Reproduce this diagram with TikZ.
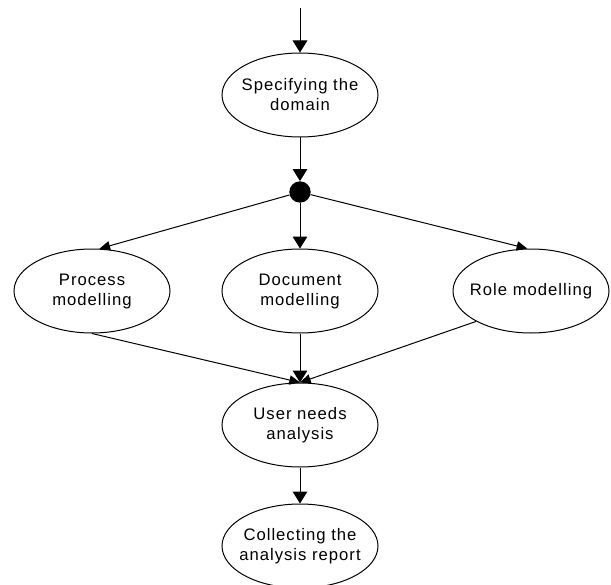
\documentclass[tikz,border=0pt]{standalone}
\usepackage{fontspec}
\setmainfont{Liberation Sans}
\usetikzlibrary{shapes.geometric,arrows.meta}

\begin{document}
\begin{tikzpicture}[x=0.75pt,y=-0.75pt]
\tikzstyle{every node}+=[inner sep=0pt]
\tikzstyle{task}=[draw=black, line width=0.75pt, ellipse, inner xsep=-20pt, inner ysep=-10pt, minimum width=117pt, minimum height=63pt, align=center, font=\fontsize{12.5}{15}\selectfont\addfontfeature{LetterSpace=6}]
\tikzstyle{flow}=[draw=black, line width=0.75pt, -{Triangle[width=11pt,length=9pt]}]
\tikzstyle{branch}=[draw=black, line width=0.75pt, -{Triangle[width=7pt,length=8pt]}]
\useasboundingbox (0,0) rectangle (611,585);
\coordinate (start) at (300,8);
\node[task] (spec) at (300,95) {Specifying the\\domain};
\node[fill=black, circle, minimum size=16pt] (fork) at (300,192) {};
\node[task] (proc) at (92,291) {Process\\modelling};
\node[task] (doc) at (300,291) {Document\\modelling};
\node[task] (role) at (531,291) {Role modelling};
\node[task] (user) at (300,425) {User needs\\analysis};
\node[task] (coll) at (300,546) {Collecting the\\analysis report};
% main path
\draw[flow] (start) -- (spec);
\draw[flow] (spec) -- (fork);
\draw[flow] (fork) -- (doc);
\draw[flow] (doc) -- (user);
\draw[flow] (user) -- (coll);
% branches
\draw[branch] (fork) -- (proc.80);
\draw[branch] (fork) -- (role.95);
\draw[branch] (proc.south) -- (user.north);
\draw[branch] (role.209) -- (user.north);
\end{tikzpicture}
\end{document}
